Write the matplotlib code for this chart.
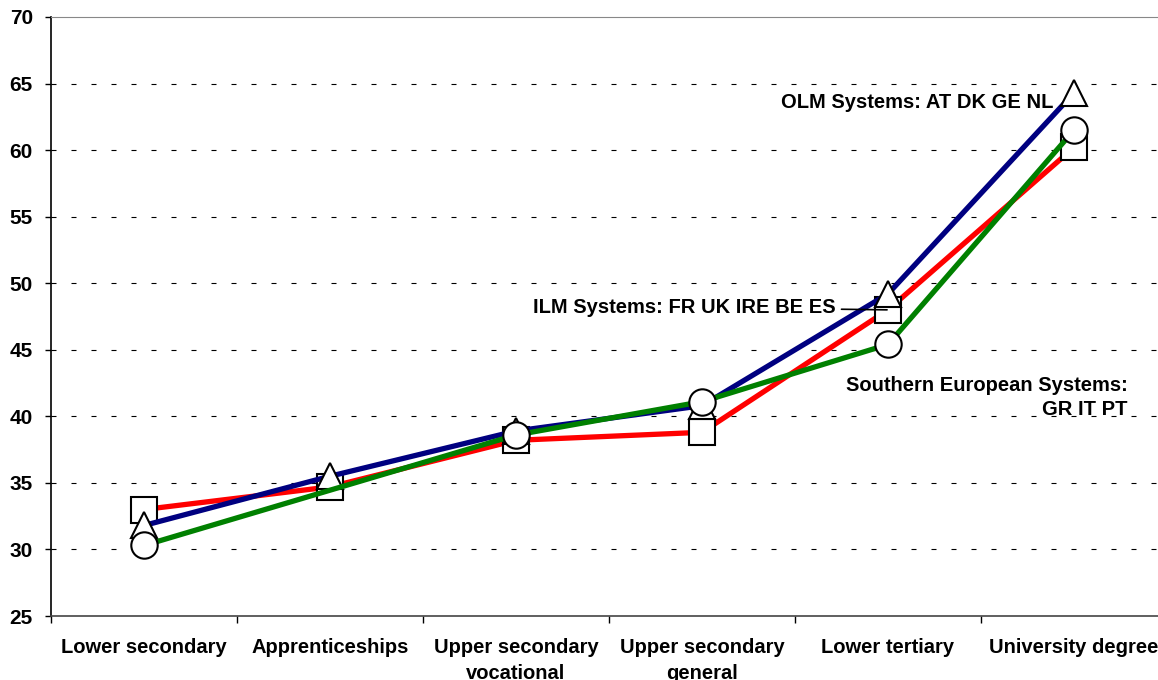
import matplotlib
matplotlib.use("Agg")
import matplotlib.pyplot as plt
import numpy as np

categories = ["Lower secondary", "Apprenticeships", "Upper secondary\nvocational",
              "Upper secondary\ngeneral", "Lower tertiary", "University degree"]
ilm = [33.0, 34.7, 38.2, 38.8, 48.0, 60.2]           # FR UK IRE BE ES
olm = [31.8, 35.5, 38.9, 40.8, 49.2, 64.3]           # AT DK GE NL
south = [30.3, np.nan, 38.6, 41.1, 45.4, 61.5]       # GR IT PT (no apprenticeships)

plt.rcParams['font.family'] = ['Liberation Sans', 'DejaVu Sans']
plt.rcParams['font.weight'] = 'bold'

fig = plt.figure(figsize=(11.58, 6.80), dpi=100)
ax = fig.add_axes([51 / 1158, 1 - 616 / 680, 1116 / 1158, 599 / 680])

x = np.arange(len(categories))
series = [
    (ilm, '#ff0000', 's', 18.5),
    (olm, '#000080', '^', 18.5),
    (south, '#008000', 'o', 19),
]
for vals, col, mk, ms in series:
    v = np.array(vals, dtype=float)
    ok = ~np.isnan(v)
    ax.plot(x[ok], v[ok], color=col, lw=3.8, marker=mk, ms=ms,
            mfc='white', mec='black', mew=1.5, solid_joinstyle='miter')

ax.set_xlim(-0.5, 5.5)
ax.set_ylim(25, 70)
ax.set_yticks(range(25, 71, 5))
ax.set_xticks(x)
ax.set_xticklabels(categories, fontsize=14.5, fontweight='bold', linespacing=1.45)
ax.set_xticks(np.arange(-0.5, 6.0, 1.0), minor=True)
ax.tick_params(axis='x', which='major', length=0, pad=16)
ax.tick_params(axis='x', which='minor', length=5, direction='out', width=1)
ax.tick_params(axis='y', length=4, direction='out', width=1, pad=9, labelsize=15)
for lab in ax.get_yticklabels():
    lab.set_fontweight('bold')

for yv in range(30, 70, 5):
    ax.axhline(yv, color='black', lw=0.8, dashes=(4.5, 13.5), zorder=0)

ax.spines['top'].set_color('#888888')
ax.spines['right'].set_color('#888888')
ax.spines['left'].set_color('black')
ax.spines['bottom'].set_color('#444444')
ax.spines['left'].set_linewidth(1.2)
ax.spines['bottom'].set_linewidth(1.2)

ax.text(4.89, 63.6, "OLM Systems: AT DK GE NL", ha='right', va='center',
        fontsize=14.5, fontweight='bold')
ax.annotate("ILM Systems: FR UK IRE BE ES", xy=(3.995, 48.0), xytext=(3.72, 48.2),
            ha='right', va='center', fontsize=14.5, fontweight='bold',
            arrowprops=dict(arrowstyle='-', color='black', lw=1.2,
                            shrinkA=2, shrinkB=0))
ax.text(5.29, 41.4, "Southern European Systems:\nGR IT PT", ha='right', va='center',
        fontsize=14.5, fontweight='bold', linespacing=1.35)

plt.savefig("out.png", dpi=100)
